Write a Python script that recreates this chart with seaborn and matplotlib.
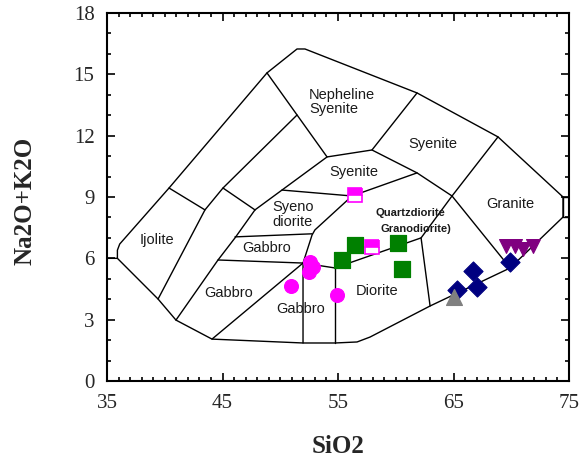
import numpy as np
import pandas as pd
import seaborn as sns
import matplotlib.pyplot as plt
from matplotlib.ticker import MultipleLocator

# Field boundaries (SiO2, Na2O+K2O)
outer_top = [(35.0, 6.0), (35.9, 6.0), (35.9, 6.4), (36.1, 6.7), (40.37, 9.44), (48.85, 15.07),
             (51.45, 16.24), (52.14, 16.24), (61.84, 14.09), (68.85, 11.94), (74.48, 9.0),
             (74.48, 8.02)]
outer_bottom = [(35.9, 6.0), (39.42, 4.01), (40.97, 2.98), (44.09, 2.05), (51.97, 1.86),
                (54.74, 1.86), (56.65, 1.91), (57.77, 2.15), (62.97, 3.67), (69.9, 5.53),
                (74.48, 8.02)]
right_box = [(75.0, 9.0), (74.48, 9.0), (74.48, 8.02), (75.0, 8.02)]
field_lines = [
    [(40.37, 9.44), (43.48, 8.37)],
    [(39.42, 4.01), (43.48, 8.37), (45.04, 9.44), (51.45, 13.01)],
    [(45.04, 9.44), (47.81, 8.37)],
    [(47.81, 8.37), (46.08, 7.0), (44.61, 5.92), (40.97, 2.98)],
    [(47.81, 8.37), (54.05, 10.96)],
    [(48.85, 15.07), (54.05, 10.96), (57.94, 11.3), (61.84, 14.09)],
    [(57.94, 11.3), (61.84, 10.18), (64.87, 9.05), (68.85, 11.94)],
    [(64.87, 9.05), (69.9, 5.53)],
    [(50.15, 9.34), (56.21, 9.05), (61.84, 10.18)],
    [(56.21, 9.05), (53.0, 7.39), (52.75, 7.14), (51.97, 5.77), (51.97, 1.86)],
    [(46.08, 7.05), (52.75, 7.2)],
    [(44.61, 5.92), (51.97, 5.77), (54.74, 5.53)],
    [(44.09, 2.05), (51.97, 5.77)],
    [(54.74, 5.53), (54.74, 1.86)],
    [(54.74, 5.53), (62.19, 7.0), (64.87, 9.05)],
    [(62.19, 7.0), (62.97, 3.67)],
]

# Samples
circle_si = [50.9, 52.5, 52.8, 52.6, 54.9]
circle_alk = [4.65, 5.35, 5.6, 5.8, 4.2]
square_si = [55.35, 56.5, 60.2, 60.5]
square_alk = [5.92, 6.65, 6.75, 5.48]
halfsq_si = [56.5, 57.9]
halfsq_alk = [9.1, 6.55]
diamond_si = [65.3, 66.7, 67.0, 69.9]
diamond_alk = [4.45, 5.4, 4.6, 5.8]
tri_si = [65.0]
tri_alk = [4.1]
invtri_si = [69.55, 70.3, 71.0, 71.9]
invtri_alk = [6.6, 6.6, 6.45, 6.6]

labels = ['Nepheline\nSyenite', 'Syenite', 'Syenite', 'Granite', 'Syeno\ndiorite', 'Gabbro',
          'Ijolite', 'Gabbro', 'Gabbro', 'Diorite']
label_x = [52.5, 63.2, 56.4, 69.9, 49.3, 48.8, 39.3, 45.5, 51.8, 58.4]
label_y = [13.65, 11.6, 10.2, 8.66, 8.15, 6.5, 6.9, 4.3, 3.52, 4.4]

sns.set_style('ticks')
plt.rcParams['font.family'] = ['Liberation Serif', 'DejaVu Serif']

fig = plt.figure(figsize=(5.8, 4.61), dpi=100)
ax = fig.add_axes([0.1845, 0.1735, 0.7966, 0.7983])

# boundaries through seaborn
rows = []
for i, seg in enumerate([outer_top, outer_bottom, right_box] + field_lines):
    for j, (x, y) in enumerate(seg):
        rows.append({'seg': i, 'order': j, 'x': x, 'y': y})
lines = pd.DataFrame(rows)
sns.lineplot(data=lines, x='x', y='y', units='seg', estimator=None, sort=False,
             color='black', linewidth=1.0, ax=ax)

# text labels
for t, x, y in zip(labels, label_x, label_y):
    ha = 'left' if t.startswith(('Nepheline', 'Syeno')) else 'center'
    ax.text(x, y, t, ha=ha, va='center', fontsize=10.5, family='Liberation Sans',
            color='#1a1a1a', linespacing=1.05)
ax.text(61.3, 8.2, 'Quartzdiorite', ha='center', va='center', fontsize=8,
        family='Liberation Sans', fontweight='bold', color='#1a1a1a')
ax.text(61.7, 7.43, 'Granodiorite)', ha='center', va='center', fontsize=8,
        family='Liberation Sans', fontweight='bold', color='#1a1a1a')

# samples
sns.scatterplot(x=circle_si, y=circle_alk, marker='o', s=100, color='#ff00ff',
                edgecolor='#ff00ff', ax=ax, zorder=5)
sns.scatterplot(x=square_si, y=square_alk, marker='s', s=121, color='#008000',
                edgecolor='#008000', ax=ax, zorder=5)
sns.scatterplot(x=diamond_si, y=diamond_alk, marker='D', s=95, color='#000080',
                edgecolor='#000080', ax=ax, zorder=5)
sns.scatterplot(x=tri_si, y=tri_alk, marker='^', s=130, color='#808080',
                edgecolor='#808080', ax=ax, zorder=5)
sns.scatterplot(x=invtri_si, y=invtri_alk, marker='v', s=100, color='#800080',
                edgecolor='#800080', ax=ax, zorder=5)
ax.plot(halfsq_si, halfsq_alk, linestyle='none', marker='s', markersize=10.5, fillstyle='top',
        markerfacecolor='#ff00ff', markerfacecoloralt='white', markeredgecolor='#ff00ff',
        markeredgewidth=1.2, zorder=6)

ax.set_xlim(35, 75)
ax.set_ylim(0, 18)
ax.set_xticks([35, 45, 55, 65, 75])
ax.set_yticks([0, 3, 6, 9, 12, 15, 18])
ax.xaxis.set_minor_locator(MultipleLocator(1))
ax.yaxis.set_minor_locator(MultipleLocator(1))
ax.tick_params(which='both', direction='in', top=True, right=True, color='black', width=1.2)
ax.tick_params(which='major', length=6, labelsize=15, pad=9)
ax.tick_params(which='minor', length=3)
for sp in ax.spines.values():
    sp.set_linewidth(1.5)
    sp.set_color('black')

ax.set_xlabel('SiO2', fontsize=18, fontweight='bold', va='center')
ax.set_ylabel('Na2O+K2O', fontsize=18, fontweight='bold', va='center')
ax.xaxis.set_label_coords(0.5, -0.179)
ax.yaxis.set_label_coords(-0.177, 0.49)

fig.savefig('out.png', dpi=100)
